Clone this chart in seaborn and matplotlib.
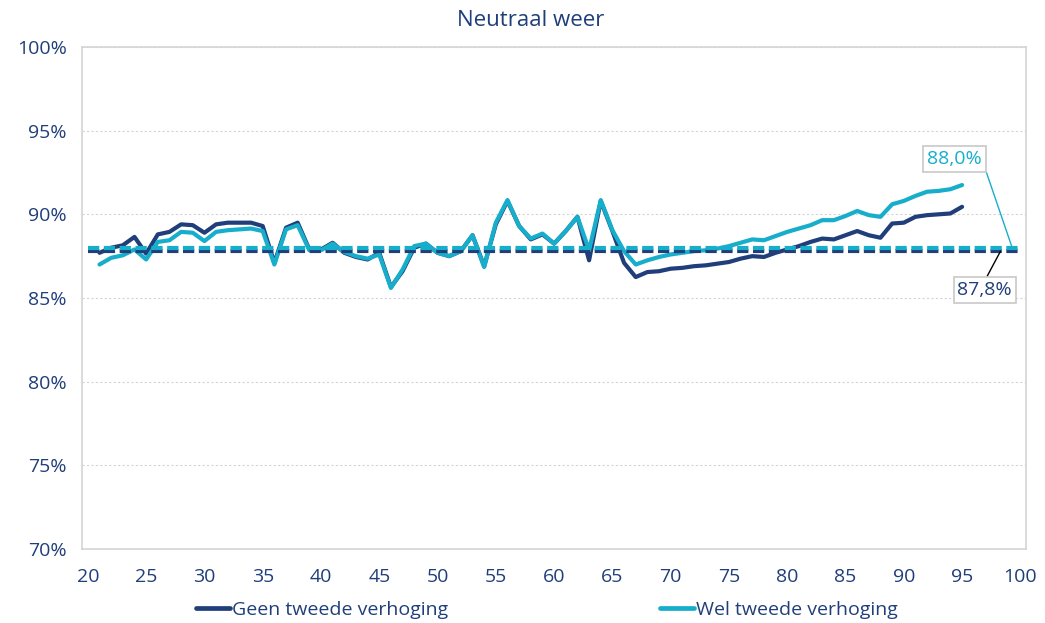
import numpy as np
import pandas as pd
import matplotlib
matplotlib.use("Agg")
import matplotlib.pyplot as plt
import seaborn as sns

# leeftijden 21..95 (x-as loopt als categorieen van 20 t/m 100)
ages = list(range(21, 96))
x_ticks = list(range(20, 101, 5))

geen_tweede = [
    87.7, 88.0, 88.15, 88.65, 87.65, 88.8, 88.95, 89.4, 89.35, 88.9,   # 21-30
    89.4, 89.5, 89.5, 89.5, 89.3, 87.1, 89.2, 89.5, 87.9, 87.9,        # 31-40
    88.3, 87.7, 87.45, 87.3, 87.7, 85.65, 86.6, 88.0, 88.25, 87.7,     # 41-50
    87.5, 87.8, 88.75, 86.9, 89.4, 90.8, 89.3, 88.5, 88.8, 88.25,      # 51-60
    89.0, 89.85, 87.25, 90.8, 89.0, 87.1, 86.25, 86.55, 86.6, 86.75,   # 61-70
    86.8, 86.9, 86.95, 87.05, 87.15, 87.35, 87.5, 87.45, 87.7, 87.9,   # 71-80
    88.1, 88.35, 88.55, 88.5, 88.75, 89.0, 88.75, 88.6, 89.45, 89.5,   # 81-90
    89.85, 89.95, 90.0, 90.05, 90.45,                                  # 91-95
]
wel_tweede = [
    87.0, 87.4, 87.55, 87.9, 87.3, 88.35, 88.45, 88.95, 88.9, 88.4,    # 21-30
    88.95, 89.05, 89.1, 89.15, 89.0, 87.0, 89.1, 89.35, 87.85, 87.85,  # 31-40
    88.25, 87.75, 87.5, 87.35, 87.6, 85.6, 86.7, 88.1, 88.25, 87.7,    # 41-50
    87.5, 87.8, 88.75, 86.85, 89.5, 90.85, 89.3, 88.55, 88.85, 88.25,  # 51-60
    89.0, 89.85, 87.85, 90.85, 89.05, 87.8, 87.0, 87.25, 87.45, 87.6,  # 61-70
    87.7, 87.8, 87.85, 87.95, 88.1, 88.3, 88.5, 88.45, 88.7, 88.95,    # 71-80
    89.15, 89.35, 89.65, 89.65, 89.9, 90.2, 89.95, 89.85, 90.6, 90.8,  # 81-90
    91.1, 91.35, 91.4, 91.5, 91.75,                                    # 91-95
]
gem_geen = 87.8
gem_wel = 88.0
labels = ["Geen tweede verhoging", "Wel tweede verhoging"]

navy = "#1f3e7a"
cyan = "#17aecb"
grid_grey = "#d4d4d4"

df = pd.DataFrame({"leeftijd": ages, labels[0]: geen_tweede, labels[1]: wel_tweede})

sns.set_theme(style="white")
plt.rcParams["font.family"] = ["Open Sans", "DejaVu Sans"]

fig = plt.figure(figsize=(10.45, 6.23), dpi=100)
ax = fig.add_axes([0.0785, 0.1188, 0.9035, 0.8058])

lw = 3.0
sns.lineplot(data=df, x="leeftijd", y=labels[0], ax=ax, color=navy,
             linewidth=lw, solid_joinstyle="round", solid_capstyle="round",
             label=labels[0])
sns.lineplot(data=df, x="leeftijd", y=labels[1], ax=ax, color=cyan,
             linewidth=lw, solid_joinstyle="round", solid_capstyle="round",
             label=labels[1])

ax.hlines(gem_geen, x_ticks[0], x_ticks[-1], colors=navy, linewidth=lw,
          linestyles=(0, (2.7, 1.1)), zorder=3)
ax.hlines(gem_wel, x_ticks[0], x_ticks[-1], colors=cyan, linewidth=lw,
          linestyles=(0, (2.7, 1.1)), zorder=3)

ax.set_xlim(19.5, 100.5)
ax.set_ylim(70, 100)
ax.set_xticks(x_ticks)
ax.set_yticks(range(70, 101, 5))
ax.set_yticklabels([f"{v}%" for v in range(70, 101, 5)])
ax.set_xlabel("")
ax.set_ylabel("")
ax.tick_params(axis="both", colors=grid_grey, labelcolor=navy, labelsize=14,
               length=4, width=1, direction="out")
ax.tick_params(axis="y", pad=7)
ax.tick_params(axis="x", pad=10)
ax.yaxis.grid(True, color=grid_grey, linestyle=(0, (2, 2)), linewidth=0.8)
for s in ax.spines.values():
    s.set_color(grid_grey)
    s.set_linewidth(1.2)

fig.text(531 / 1045, 1 - 20 / 623, "Neutraal weer", color=navy, fontsize=16,
         ha="center", va="center")

ax.annotate(f"{gem_wel:.1f}%".replace(".", ","), xy=(99.3, gem_wel),
            xytext=(94.35, 93.3), ha="center", va="center", color=cyan,
            fontsize=14,
            bbox=dict(boxstyle="square,pad=0.2", fc="white", ec="#c8c8c8", lw=1.2),
            arrowprops=dict(arrowstyle="-", color=cyan, lw=1, relpos=(1, 0.5),
                            shrinkA=0, shrinkB=0))
ax.annotate(f"{gem_geen:.1f}%".replace(".", ","), xy=(98.3, gem_geen),
            xytext=(96.95, 85.5), ha="center", va="center", color=navy,
            fontsize=14,
            bbox=dict(boxstyle="square,pad=0.2", fc="white", ec="#c8c8c8", lw=1.2),
            arrowprops=dict(arrowstyle="-", color="black", lw=1, relpos=(0.5, 1),
                            shrinkA=0, shrinkB=0))

ax.get_legend().remove()
handles, _ = ax.get_legend_handles_labels()
leg = fig.legend(handles[:2], labels, loc="lower left", bbox_to_anchor=(0.171, -0.021),
                 ncol=2, frameon=False, fontsize=14, handlelength=1.75,
                 handletextpad=0.1, columnspacing=10.9)
for t in leg.get_texts():
    t.set_color(navy)
for h in leg.get_lines():
    h.set_linewidth(3.4)

fig.savefig("out.png", dpi=100)
plt.close(fig)
